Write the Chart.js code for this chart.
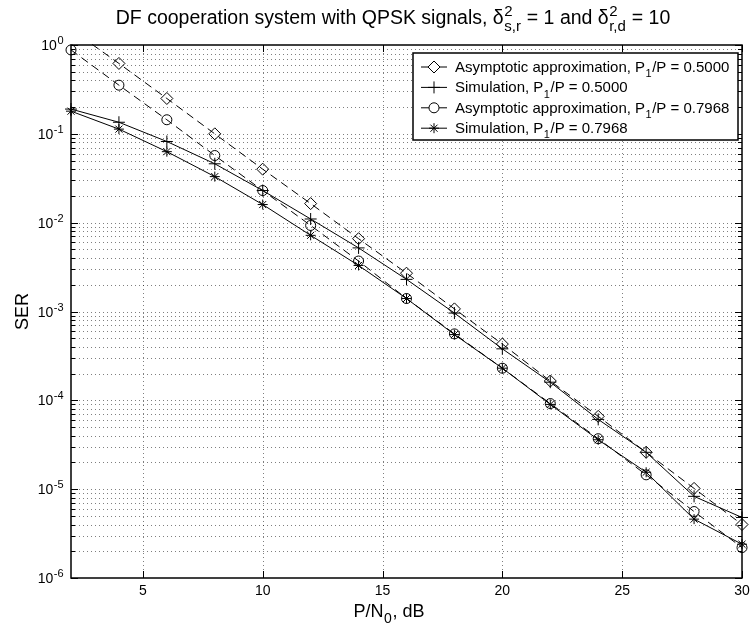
<!DOCTYPE html>
<html>
<head>
<meta charset="utf-8">
<script src="https://cdn.jsdelivr.net/npm/chart.js@4/dist/chart.umd.min.js"></script>
<style>
  body { margin: 0; background: #fff; }
  #wrap { width: 753px; height: 633px; position: relative; }
</style>
</head>
<body>
<div id="wrap"><canvas id="myChart"></canvas></div>
<script>
// P/N0 in dB
const snr = [2, 4, 6, 8, 10, 12, 14, 16, 18, 20, 22, 24, 26, 28, 30];

// SER
const asym05 = [1.5, 0.62, 0.25, 0.1, 0.04, 0.0164, 0.0066, 0.0027, 0.00107, 4.3e-4, 1.65e-4, 6.6e-5, 2.6e-5, 1.02e-5, 4.0e-6];
const sim05 = [0.19, 0.135, 0.082, 0.046, 0.023, 0.011, 0.0052, 0.0023, 9.6e-4, 3.8e-4, 1.6e-4, 6.1e-5, 2.6e-5, 8.3e-6, 4.8e-6];
const asym07968 = [0.88, 0.353, 0.144, 0.057, 0.023, 0.0093, 0.0037, 0.0014, 5.6e-4, 2.3e-4, 9.2e-5, 3.7e-5, 1.45e-5, 5.6e-6, 2.2e-6];
const sim07968 = [0.18, 0.113, 0.063, 0.033, 0.016, 0.0072, 0.0033, 0.0014, 5.5e-4, 2.3e-4, 9.0e-5, 3.6e-5, 1.55e-5, 4.6e-6, 2.4e-6];

// tick labels
const xTicks = [5, 10, 15, 20, 25, 30];
const yExponents = [0, -1, -2, -3, -4, -5, -6];

const FONT = '"Liberation Sans", Arial, Helvetica, sans-serif';

function pts(ys) {
  return snr.map((x, i) => ({ x: x, y: ys[i] }));
}

// рисуем текст с индексами: части {t}, {sup}, {sub}, {sup, sub}
function richWidth(ctx, parts, size) {
  let w = 0;
  parts.forEach(p => {
    if (p.t !== undefined) {
      ctx.font = size + 'px ' + FONT;
      w += ctx.measureText(p.t).width;
    } else {
      ctx.font = Math.round(size * 0.75) + 'px ' + FONT;
      const a = p.sup ? ctx.measureText(p.sup).width : 0;
      const b = p.sub ? ctx.measureText(p.sub).width : 0;
      w += Math.max(a, b) + 1;
    }
  });
  return w;
}

function drawRich(ctx, parts, x, y, size, align) {
  const w = richWidth(ctx, parts, size);
  let cx = x;
  if (align === 'center') cx = x - w / 2;
  if (align === 'right') cx = x - w;
  ctx.textBaseline = 'alphabetic';
  ctx.textAlign = 'left';
  ctx.fillStyle = '#000';
  parts.forEach(p => {
    if (p.t !== undefined) {
      ctx.font = size + 'px ' + FONT;
      ctx.fillText(p.t, cx, y);
      cx += ctx.measureText(p.t).width;
    } else {
      const s = Math.round(size * 0.75);
      ctx.font = s + 'px ' + FONT;
      let a = 0, b = 0;
      if (p.sup) { ctx.fillText(p.sup, cx + 0.5, y - size * 0.42); a = ctx.measureText(p.sup).width; }
      if (p.sub) { ctx.fillText(p.sub, cx + 0.5, y + size * 0.34); b = ctx.measureText(p.sub).width; }
      cx += Math.max(a, b) + 1;
    }
  });
}

const series = [
  { label: [{ t: 'Asymptotic approximation, P' }, { sub: '1' }, { t: '/P = 0.5000' }], data: asym05, style: 'rectRot', r: 6, dash: [8, 5] },
  { label: [{ t: 'Simulation, P' }, { sub: '1' }, { t: '/P = 0.5000' }], data: sim05, style: 'cross', r: 6, dash: [] },
  { label: [{ t: 'Asymptotic approximation, P' }, { sub: '1' }, { t: '/P = 0.7968' }], data: asym07968, style: 'circle', r: 5, dash: [8, 5] },
  { label: [{ t: 'Simulation, P' }, { sub: '1' }, { t: '/P = 0.7968' }], data: sim07968, style: 'star', r: 5, dash: [] }
];

// оси, сетка, подписи и легенда в стиле MATLAB
const matlabAxes = {
  id: 'matlabAxes',
  beforeDatasetsDraw(chart) {
    const { ctx, chartArea: a, scales: { x, y } } = chart;
    ctx.save();
    ctx.strokeStyle = 'rgba(0,0,0,0.5)';
    ctx.lineWidth = 1;
    ctx.setLineDash([1, 3]);
    for (let e = -6; e <= 0; e++) {
      for (let k = 1; k <= 9; k++) {
        const v = k * Math.pow(10, e);
        if (v > 1.0001) break;
        const py = Math.round(y.getPixelForValue(v)) + 0.5;
        if (py <= a.top + 1 || py >= a.bottom - 1) continue;
        ctx.beginPath(); ctx.moveTo(a.left, py); ctx.lineTo(a.right, py); ctx.stroke();
      }
    }
    xTicks.forEach(v => {
      const px = Math.round(x.getPixelForValue(v)) + 0.5;
      if (px >= a.right - 1) return;
      ctx.beginPath(); ctx.moveTo(px, a.top); ctx.lineTo(px, a.bottom); ctx.stroke();
    });
    ctx.restore();
  },
  afterDatasetsDraw(chart) {
    const { ctx, chartArea: a, scales: { x, y } } = chart;
    ctx.save();
    ctx.setLineDash([]);
    ctx.strokeStyle = '#000';
    ctx.lineWidth = 1;
    // inward ticks
    ctx.beginPath();
    for (let e = -6; e <= 0; e++) {
      for (let k = 1; k <= 9; k++) {
        const v = k * Math.pow(10, e);
        if (v > 1.0001) break;
        const py = Math.round(y.getPixelForValue(v)) + 0.5;
        const len = k === 1 ? 7 : 4;
        ctx.moveTo(a.left, py); ctx.lineTo(a.left + len, py);
        ctx.moveTo(a.right, py); ctx.lineTo(a.right - len, py);
      }
    }
    xTicks.forEach(v => {
      const px = Math.round(x.getPixelForValue(v)) + 0.5;
      ctx.moveTo(px, a.bottom); ctx.lineTo(px, a.bottom - 7);
      ctx.moveTo(px, a.top); ctx.lineTo(px, a.top + 7);
    });
    ctx.stroke();
    // box
    ctx.lineWidth = 1.5;
    ctx.strokeRect(a.left, a.top, a.right - a.left, a.bottom - a.top);

    // tick labels
    yExponents.forEach(e => {
      const py = y.getPixelForValue(Math.pow(10, e));
      drawRich(ctx, [{ t: '10' }, { sup: String(e) }], 64, py + 5, 14, 'right');
    });
    ctx.font = '14px ' + FONT;
    ctx.textAlign = 'center';
    ctx.textBaseline = 'middle';
    ctx.fillStyle = '#000';
    xTicks.forEach(v => {
      ctx.fillText(String(v), x.getPixelForValue(v), a.bottom + 13);
    });

    // axis titles
    drawRich(ctx, [{ t: 'P/N' }, { sub: '0' }, { t: ', dB' }], 389, 617, 18, 'center');
    ctx.save();
    ctx.translate(28, (a.top + a.bottom) / 2);
    ctx.rotate(-Math.PI / 2);
    drawRich(ctx, [{ t: 'SER' }], 0, 0, 18, 'center');
    ctx.restore();

    // title
    drawRich(ctx, [
      { t: 'DF cooperation system with QPSK signals, δ' }, { sup: '2', sub: 's,r' },
      { t: ' = 1 and δ' }, { sup: '2', sub: 'r,d' }, { t: ' = 10' }
    ], 393, 24, 19.5, 'center');

    // legend
    const L = 413, T = 53, R = 738, B = 140;
    ctx.fillStyle = '#fff';
    ctx.fillRect(L, T, R - L, B - T);
    ctx.strokeStyle = '#000';
    ctx.lineWidth = 1.5;
    ctx.strokeRect(L, T, R - L, B - T);
    chart.data.datasets.forEach((ds, i) => {
      const cy = 67 + i * 20.4;
      ctx.save();
      ctx.lineWidth = 1;
      ctx.strokeStyle = '#000';
      ctx.beginPath(); ctx.moveTo(421, cy); ctx.lineTo(447, cy); ctx.stroke();
      ctx.fillStyle = '#fff';
      Chart.helpers.drawPoint(ctx, {
        pointStyle: ds.pointStyle, radius: ds.pointRadius, borderWidth: 1, rotation: 0
      }, 434, cy);
      ctx.restore();
      drawRich(ctx, series[i].label, 455, cy + 5, 15, 'left');
    });
    ctx.restore();
  }
};

const datasets = series.map(s => ({
  label: s.label.map(p => p.t || p.sub).join(''),
  data: pts(s.data),
  showLine: true,
  borderColor: '#000',
  borderWidth: 1,
  borderDash: s.dash,
  pointStyle: s.style,
  pointRadius: s.r,
  pointHoverRadius: s.r,
  pointBorderColor: '#000',
  pointBackgroundColor: 'rgba(0,0,0,0)',
  pointBorderWidth: 1,
  tension: 0,
  clip: { left: 10, top: 1, right: 10, bottom: 10 }
}));

const config = {
  type: 'line',
  data: { datasets: datasets },
  options: {
    responsive: true,
    maintainAspectRatio: false,
    animation: false,
    layout: { padding: { left: 0, right: 11, top: 45, bottom: 0 } },
    plugins: { legend: { display: false }, title: { display: false }, tooltip: { enabled: false } },
    scales: {
      x: {
        type: 'linear', min: 2, max: 30,
        ticks: { display: false }, grid: { display: false }, border: { display: false },
        afterFit: s => { s.height = 55; }
      },
      y: {
        type: 'logarithmic', min: 1e-6, max: 1,
        ticks: { display: false }, grid: { display: false }, border: { display: false },
        afterFit: s => { s.width = 71; }
      }
    }
  },
  plugins: [matlabAxes]
};

const myChart = new Chart(document.getElementById('myChart'), config);
</script>
</body>
</html>
